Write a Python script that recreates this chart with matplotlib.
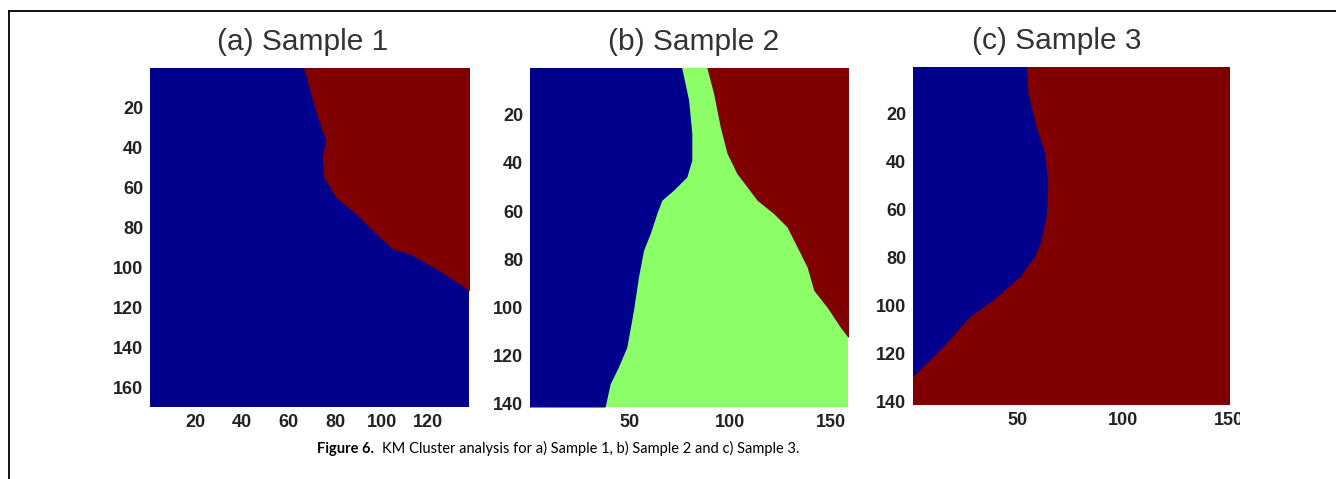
import numpy as np
import matplotlib
matplotlib.use("Agg")
import matplotlib.pyplot as plt
from matplotlib.lines import Line2D
from matplotlib.patches import Rectangle

# Cluster colours (jet-style: low, middle, high cluster index)
BLUE = "#00008C"
GREEN = "#8CFF68"
RED = "#800000"

# ---- Sample 1: 169 rows x 137 columns, two clusters ----
s1_shape = (169, 137)
s1_rows = [0.5, 21.5, 36.5, 44.8, 54.8, 64.8, 73.2, 83.2, 90.7, 93.2, 99.8, 107.3, 111.5]
s1_edge = [66.5, 71.5, 75.9, 74.4, 75.1, 80.2, 88.9, 97.6, 104.8, 112.1, 122.2, 132.4, 137.5]

# ---- Sample 2: 141 rows x 158 columns, three clusters ----
s2_shape = (141, 158)
s2_left_rows = [0.5, 13.8, 27.7, 38.8, 45.8, 51.3, 55.5, 61.0, 69.4, 76.3, 87.4,
                101.3, 116.6, 124.9, 131.9, 141.5]
s2_left_edge = [75.9, 79.3, 80.9, 80.9, 78.4, 71.8, 66.0, 63.5, 60.2, 56.9, 54.4,
                51.9, 48.6, 44.4, 40.3, 37.8]
s2_right_rows = [0.5, 11.0, 24.9, 36.0, 44.4, 49.9, 55.5, 61.0, 66.6, 74.9, 83.3,
                 93.0, 100.0, 108.3, 112.5]
s2_right_edge = [88.4, 91.7, 95.0, 98.4, 103.3, 108.3, 113.3, 121.5, 128.2, 133.2,
                 138.2, 141.5, 148.1, 154.7, 158.5]

# ---- Sample 3: 141 rows x 150 columns, two clusters ----
s3_shape = (141, 150)
s3_rows = [0.5, 11.5, 25.4, 36.5, 49.0, 61.5, 72.6, 79.5, 87.9, 97.6, 104.5, 117.0, 129.5]
s3_edge = [54.1, 54.9, 58.8, 62.8, 64.3, 63.6, 61.2, 58.0, 51.0, 38.4, 27.4, 14.8, 0.5]

titles = ["(a) Sample 1", "(b) Sample 2", "(c) Sample 3"]
xticks = [[20, 40, 60, 80, 100, 120], [50, 100, 150], [50, 100, 150]]
yticks = [[20, 40, 60, 80, 100, 120, 140, 160],
          [20, 40, 60, 80, 100, 120, 140],
          [20, 40, 60, 80, 100, 120, 140]]
caption_bold = "Figure 6."
caption_text = "KM Cluster analysis for a) Sample 1, b) Sample 2 and c) Sample 3."

W, H = 1336, 479
fig = plt.figure(figsize=(W / 100, H / 100), dpi=100)
fig.patch.set_facecolor("white")


def px_axes(left, top, right, bottom):
    return fig.add_axes([left / W, 1 - bottom / H, (right - left) / W, (bottom - top) / H])


def region(ax, rows, left, right, color):
    """Fill a cluster region between two column boundaries, carried past the top edge."""
    rows = np.concatenate(([rows[0] - 2], rows))
    left = np.concatenate(([np.atleast_1d(left)[0]], np.broadcast_to(left, len(rows) - 1)))
    right = np.concatenate(([np.atleast_1d(right)[0]], np.broadcast_to(right, len(rows) - 1)))
    ax.fill_betweenx(rows, left, right, color=color, lw=0)


axes = [px_axes(150, 68, 469, 407), px_axes(530, 68, 848, 407), px_axes(913, 67, 1230, 405)]
shapes = [s1_shape, s2_shape, s3_shape]
title_x = [0.48, 0.513, 0.454]

# Sample 1: blue background, red cluster to the right of the boundary
ax = axes[0]
ax.set_facecolor(BLUE)
region(ax, s1_rows, s1_edge, s1_shape[1] + 2, RED)

# Sample 2: green background, blue on the left, red on the upper right
ax = axes[1]
ax.set_facecolor(GREEN)
region(ax, s2_left_rows, -1, s2_left_edge, BLUE)
region(ax, s2_right_rows, s2_right_edge, s2_shape[1] + 2, RED)

# Sample 3: red background, blue cluster on the left
ax = axes[2]
ax.set_facecolor(RED)
region(ax, s3_rows, -1, s3_edge, BLUE)

tick_font = dict(family="Liberation Sans", weight="bold", size=13, color="#222222")
for ax, shp, ttl, xt, yt, tx in zip(axes, shapes, titles, xticks, yticks, title_x):
    nrows, ncols = shp
    ax.set_xlim(0.5, ncols + 0.5)
    ax.set_ylim(nrows + 0.5, 0.5)
    ax.set_xticks(xt)
    ax.set_yticks(yt)
    ax.set_xticklabels([str(v) for v in xt], fontdict=tick_font)
    ax.set_yticklabels([str(v) for v in yt], fontdict=tick_font)
    ax.tick_params(length=0, pad=5)
    for sp in ax.spines.values():
        sp.set_visible(False)
    hpx = ax.get_position().height * H
    ax.text(tx, 1 + 18 / hpx, ttl, transform=ax.transAxes, ha="center", va="baseline",
            fontsize=21.5, family="Liberation Sans", color="#333333")

# the right-most tick label of the last panel runs off the edge of its panel
fig.add_artist(Rectangle((1240 / W, 1 - 440 / H), (W - 1240) / W, 40 / H,
                         transform=fig.transFigure, facecolor="white",
                         edgecolor="none", zorder=10))

# page rules
fig.add_artist(Line2D([9 / W, 1], [1 - 11 / H, 1 - 11 / H], transform=fig.transFigure,
                      color="black", lw=1.3))
fig.add_artist(Line2D([9 / W, 9 / W], [0, 1 - 11 / H], transform=fig.transFigure,
                      color="black", lw=1.3))

# caption
cap_family = ["Lato"]
t1 = fig.text(317 / W, 1 - 453 / H, caption_bold, fontsize=10.5, weight="bold",
              family=cap_family, ha="left", va="baseline", color="black")
axes[0].annotate(caption_text, xy=(1, 0), xycoords=t1, xytext=(6, 0),
                 textcoords="offset points", fontsize=10.5, family=cap_family,
                 ha="left", va="bottom", color="black", annotation_clip=False)

fig.savefig("out.png", dpi=100, facecolor="white")
